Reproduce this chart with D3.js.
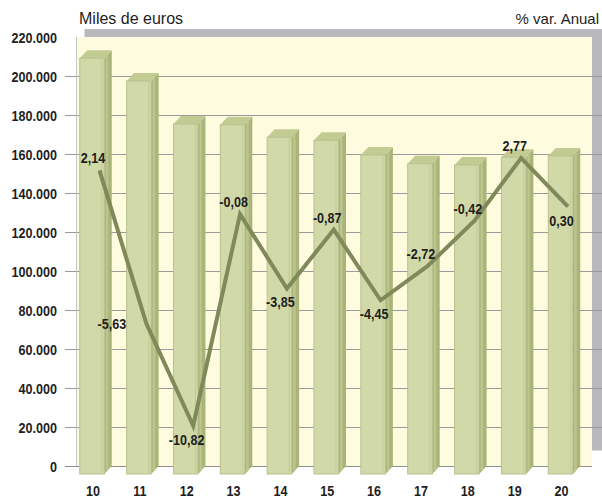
<!DOCTYPE html>
<meta charset="utf-8">
<script src="https://cdnjs.cloudflare.com/ajax/libs/d3/7.8.5/d3.min.js"></script>
<html>
<head>
<style>
body { margin: 0; background: #fff; }
.lbl { font-family: "Liberation Sans", Arial, sans-serif; font-weight: bold; fill: #1e1e1e; font-size: 15px; }
.ttl { font-family: "Liberation Sans", Arial, sans-serif; fill: #1e1e1e; }
</style>
</head>
<body>
<div id="chart"></div>
<script>

// datos
var years = ["10", "11", "12", "13", "14", "15", "16", "17", "18", "19", "20"];
var miles = [213200, 201500, 179500, 179100, 172700, 171100, 163600, 159100, 158500, 162400, 163100];
var varAnual = [2.14, -5.63, -10.82, -0.08, -3.85, -0.87, -4.45, -2.72, -0.42, 2.77, 0.30];
var yTicks = [0, 20000, 40000, 60000, 80000, 100000, 120000, 140000, 160000, 180000, 200000, 220000];
// where each % label sits next to its point
var labelPos = ["above", "left", "below", "above", "below", "above", "below", "above", "above", "above", "below"];

var W = 602, H = 498;
var dx = 7.5, dy = 8;   // 3d depth
var narrow = 0.84;      // fake condensed font

var es = d3.formatLocale({decimal: ",", thousands: ".", grouping: [3], currency: ["", "€"], minus: "-"});
var fMiles = es.format(",.0f");
var fPct = es.format(".2f");

function at(xx, yy) { return "translate(" + xx + "," + yy + ") scale(" + narrow + ",1)"; }

var svg = d3.select("#chart").append("svg")
  .attr("width", W).attr("height", H);

// back wall scale
var y = d3.scaleLinear().domain([0, 220000]).range([466, 37]);
var yp = d3.scaleLinear().domain([-12.86, 8.91]).range([466, 37]);
var x = d3.scalePoint().domain(years).range([92, 560.5]);
var bw = 24.5;

// wall
svg.append("rect").attr("x", 77 + dx).attr("y", 37 - dy).attr("width", W - 77 - dx).attr("height", 466 - 37 - dy + 0.5)
  .attr("fill", "#b9b9bd");
svg.append("rect").attr("x", 77).attr("y", 37).attr("width", 592 - 77).attr("height", 466 - 37)
  .attr("fill", "#fffbdf");

// grid
svg.append("g").selectAll("line")
  .data(yTicks.filter(function(d) { return d > 0 && d < 220000; }))
  .enter().append("line")
  .attr("x1", 65).attr("x2", W)
  .attr("y1", function(d) { return Math.round(y(d)) + 0.5; })
  .attr("y2", function(d) { return Math.round(y(d)) + 0.5; })
  .attr("stroke", "#9a9a9a").attr("stroke-width", 1);
svg.append("line").attr("x1", 65).attr("x2", 592).attr("y1", y(0) + 0.5).attr("y2", y(0) + 0.5)
  .attr("stroke", "#8f8f8f");
svg.append("line").attr("x1", 76.5).attr("x2", 76.5).attr("y1", 37).attr("y2", 466)
  .attr("stroke", "#c4c4c4");

// y labels
svg.append("g").selectAll("text")
  .data(yTicks).enter().append("text")
  .attr("class", "lbl")
  .attr("transform", function(d) { return at(57, y(d) + 5.5); })
  .attr("text-anchor", "end")
  .text(function(d) { return fMiles(d); });

// bars
var bars = svg.append("g").selectAll("g")
  .data(years).enter().append("g");

bars.each(function(d, i) {
  var g = d3.select(this);
  var x0 = x(d) - bw / 2, x1 = x(d) + bw / 2;
  var yt = y(miles[i]) + dy, yb = y(0) + dy;
  // side
  g.append("path")
    .attr("d", "M" + x1 + "," + yt + "L" + (x1 + dx) + "," + (yt - dy) + "L" + (x1 + dx) + "," + (yb - dy) + "L" + x1 + "," + yb + "Z")
    .attr("fill", "#aab478");
  g.append("path")
    .attr("d", "M" + (x1 + 1.5) + "," + (yt - 1) + "L" + (x1 + 4) + "," + (yt - 4) + "L" + (x1 + 4) + "," + (yb - 4) + "L" + (x1 + 1.5) + "," + (yb - 1) + "Z")
    .attr("fill", "#bcc58e");
  // top
  g.append("path")
    .attr("d", "M" + x0 + "," + yt + "L" + (x0 + dx) + "," + (yt - dy) + "L" + (x1 + dx) + "," + (yt - dy) + "L" + x1 + "," + yt + "Z")
    .attr("fill", "#c2cb92");
  // front
  g.append("rect")
    .attr("x", x0).attr("y", yt).attr("width", bw).attr("height", yb - yt)
    .attr("fill", "#d1d9a9").attr("stroke", "#b7c08f").attr("stroke-width", 1);
  g.append("line")
    .attr("x1", x1 - 2.5).attr("x2", x1 - 2.5).attr("y1", yt + 1).attr("y2", yb - 1)
    .attr("stroke", "#c3cb9a").attr("stroke-width", 1);
});

// line
var line = d3.line()
  .x(function(d, i) { return x(years[i]) + dx; })
  .y(function(d) { return yp(d); });

svg.append("path")
  .datum(varAnual)
  .attr("fill", "none")
  .attr("stroke", "#7f895a")
  .attr("stroke-width", 4)
  .attr("stroke-linejoin", "miter")
  .attr("d", line);

svg.append("g").selectAll("text")
  .data(varAnual).enter().append("text")
  .attr("class", "lbl")
  .attr("text-anchor", "middle")
  .attr("transform", function(d, i) {
    var p = labelPos[i];
    var lx = p == "left" ? x(years[i]) - 27 : x(years[i]) + 1;
    var ly = p == "above" ? yp(d) - 7 : (p == "below" ? yp(d) + 19 : yp(d) + 5.5);
    return at(lx, ly);
  })
  .text(function(d) { return fPct(d); });

// x labels
svg.append("g").selectAll("text")
  .data(years).enter().append("text")
  .attr("class", "lbl")
  .attr("transform", function(d) { return at(x(d) + 1, 496); })
  .attr("text-anchor", "middle")
  .text(function(d) { return d; });

// titles
svg.append("text").attr("class", "ttl").attr("x", 79).attr("y", 24)
  .style("font-size", "16px").text("Miles de euros");
svg.append("text").attr("class", "ttl").attr("x", 599).attr("y", 24)
  .attr("text-anchor", "end").style("font-size", "15px").text("% var. Anual");

</script>
</body>
</html>
